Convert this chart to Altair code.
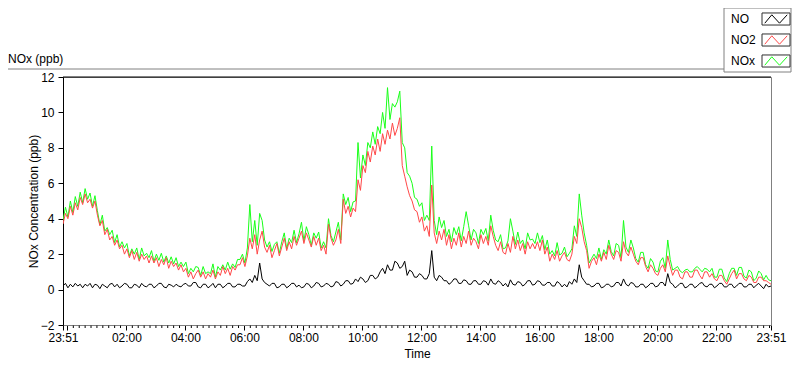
import altair as alt
import pandas as pd

FONT = "Liberation Sans"
STEP = 5  # minutes between samples, first sample at 23:51

# NO2 (ppb), one value every 5 min from 23:51 to 23:51 next day (12 per row)
no2 = [
    3.7, 4.3, 4.0, 4.7, 4.2, 4.9, 4.5, 5.2, 4.8, 5.4, 4.9, 5.1,
    4.6, 5.0, 4.2, 3.6, 3.9, 3.1, 3.4, 2.8, 3.0, 2.5, 2.8, 2.3,
    2.5, 2.0, 2.3, 1.8, 2.2, 1.7, 2.1, 1.6, 2.0, 1.7, 1.9, 1.5,
    1.9, 1.5, 1.8, 1.3, 1.7, 1.4, 1.8, 1.2, 1.6, 1.3, 1.5, 1.1,
    1.4, 1.0, 1.2, 0.7, 1.0, 0.6, 0.9, 1.1, 0.7, 1.0, 0.6, 0.9,
    0.7, 1.1, 0.6, 1.0, 0.8, 1.3, 0.9, 1.2, 0.8, 1.3, 1.1, 1.4,
    1.4, 1.8, 1.3, 1.9, 2.9, 2.3, 3.1, 2.0, 2.8, 3.3, 2.4, 2.1,
    2.5, 1.8, 2.2, 2.6, 1.9, 2.4, 2.9, 2.2, 2.7, 2.3, 3.0, 2.5,
    2.9, 3.3, 2.6, 3.2, 2.8, 2.4, 3.0, 2.5, 2.9, 2.2, 2.5, 2.0,
    3.7, 2.9, 2.5, 2.8, 3.4, 2.6, 5.1, 4.3, 4.7, 4.1, 4.6, 4.4,
    6.2, 5.6, 7.0, 6.6, 7.8, 7.2, 8.1, 7.6, 8.5, 7.8, 8.8, 8.2,
    9.0, 8.5, 9.4, 8.7, 9.1, 9.7, 7.0, 6.4, 5.8, 5.3, 5.0, 4.5,
    4.4, 3.8, 4.1, 3.3, 3.6, 3.0, 5.9, 3.2, 2.6, 3.3, 2.8, 3.4,
    2.5, 3.1, 2.3, 2.9, 2.5, 3.2, 2.4, 3.0, 2.6, 3.3, 2.5, 2.9,
    2.7, 2.3, 3.1, 2.6, 3.0, 2.5, 3.6, 3.0, 2.5, 2.2, 2.7, 2.1,
    2.0, 2.6, 2.1, 3.0, 2.3, 2.8, 2.2, 2.6, 2.0, 2.7, 2.3, 2.6,
    2.3, 2.7, 2.2, 2.8, 2.0, 2.4, 1.6, 2.0, 1.7, 2.2, 1.6, 1.9,
    2.1, 1.7, 1.6, 2.0, 3.0, 2.6, 4.0, 3.5, 2.7, 2.2, 1.2, 1.6,
    1.8, 1.4, 2.0, 1.6, 2.1, 1.7, 2.5, 2.0, 1.7, 2.2, 2.1, 1.6,
    2.7, 2.1, 1.9, 2.4, 2.0, 1.6, 1.4, 1.8, 1.8, 1.3, 1.0, 1.4,
    1.2, 0.9, 0.8, 1.2, 1.4, 1.0, 1.9, 1.3, 0.8, 1.1, 1.1, 0.7,
    0.6, 1.0, 1.0, 0.7, 0.7, 1.1, 1.1, 0.8, 0.6, 1.0, 1.0, 0.7,
    0.9, 0.6, 0.5, 0.8, 0.8, 0.5, 0.3, 0.6, 0.9, 1.1, 0.6, 0.9,
    0.9, 0.6, 0.5, 0.8, 0.7, 0.4, 0.4, 0.7, 0.7, 0.5, 0.5, 0.4,
    0.3,
]

# NO (ppb)
no = [
    0.2, 0.35, 0.1, 0.3, 0.15, 0.35, 0.2, 0.3, 0.1, 0.3, 0.2, 0.35,
    0.1, 0.3, 0.25, 0.05, 0.3, 0.2, 0.1, 0.3, 0.35, 0.15, 0.3, 0.1,
    0.2, 0.35, 0.3, 0.1, 0.1, 0.3, 0.25, 0.1, 0.35, 0.2, 0.15, 0.3,
    0.3, 0.1, 0.2, 0.35, 0.35, 0.15, 0.1, 0.3, 0.25, 0.15, 0.3, 0.2,
    0.15, 0.3, 0.35, 0.2, 0.2, 0.4, 0.4, 0.15, 0.1, 0.3, 0.3, 0.1,
    0.2, 0.35, 0.1, 0.3, 0.3, 0.1, 0.2, 0.35, 0.35, 0.15, 0.15, 0.3,
    0.3, 0.2, 0.2, 0.45, 0.6, 0.4, 0.8, 0.5, 1.5, 0.6, 0.4, 0.3,
    0.2, 0.35, 0.35, 0.1, 0.15, 0.3, 0.3, 0.1, 0.2, 0.35, 0.35, 0.15,
    0.25, 0.1, 0.15, 0.35, 0.3, 0.1, 0.2, 0.4, 0.35, 0.15, 0.2, 0.35,
    0.3, 0.15, 0.2, 0.45, 0.4, 0.2, 0.3, 0.5, 0.5, 0.3, 0.35, 0.6,
    0.45, 0.7, 0.6, 0.4, 0.5, 0.8, 0.8, 0.6, 0.7, 1.0, 1.2, 0.9,
    1.4, 1.1, 1.1, 1.6, 1.5, 1.2, 1.3, 1.6, 0.8, 1.1, 1.0, 0.7,
    0.7, 0.9, 0.8, 0.6, 0.6, 0.9, 2.2, 0.7, 0.5, 0.8, 0.7, 0.5,
    0.5, 0.3, 0.4, 0.6, 0.6, 0.35, 0.35, 0.55, 0.5, 0.3, 0.3, 0.5,
    0.5, 0.3, 0.3, 0.5, 0.45, 0.25, 0.6, 0.35, 0.3, 0.5, 0.4, 0.2,
    0.35, 0.15, 0.55, 0.3, 0.25, 0.45, 0.4, 0.2, 0.3, 0.5, 0.5, 0.25,
    0.3, 0.5, 0.45, 0.25, 0.25, 0.4, 0.4, 0.2, 0.2, 0.45, 0.35, 0.15,
    0.3, 0.15, 0.45, 0.3, 0.6, 0.4, 1.4, 0.7, 0.5, 0.3, 0.3, 0.15,
    0.2, 0.35, 0.35, 0.1, 0.15, 0.3, 0.3, 0.15, 0.2, 0.4, 0.4, 0.2,
    0.6, 0.3, 0.2, 0.4, 0.35, 0.15, 0.15, 0.3, 0.3, 0.1, 0.2, 0.35,
    0.35, 0.15, 0.2, 0.4, 0.4, 0.2, 0.9, 0.4, 0.3, 0.1, 0.2, 0.35,
    0.35, 0.1, 0.15, 0.3, 0.3, 0.1, 0.2, 0.35, 0.4, 0.2, 0.15, 0.3,
    0.3, 0.1, 0.2, 0.35, 0.35, 0.15, 0.15, 0.3, 0.3, 0.1, 0.2, 0.35,
    0.35, 0.15, 0.15, 0.3, 0.3, 0.1, 0.25, 0.35, 0.2, 0.05, 0.3, 0.15,
    0.2,
]

# NOx (ppb)
nox = [
    3.9, 4.65, 4.1, 5.0, 4.35, 5.25, 4.7, 5.5, 4.9, 5.7, 5.1, 5.45,
    4.7, 5.3, 4.45, 3.65, 4.2, 3.3, 3.5, 3.1, 3.35, 2.65, 3.1, 2.4,
    2.7, 2.35, 2.6, 1.9, 2.3, 2.0, 2.35, 1.7, 2.35, 1.9, 2.05, 1.8,
    2.2, 1.6, 2.0, 1.65, 2.05, 1.55, 1.9, 1.5, 1.85, 1.45, 1.8, 1.3,
    1.55, 1.3, 1.55, 0.9, 1.2, 1.0, 1.3, 1.25, 0.8, 1.3, 0.9, 1.0,
    0.9, 1.45, 0.7, 1.3, 1.1, 1.4, 1.1, 1.55, 1.15, 1.45, 1.25, 1.7,
    1.7, 2.0, 1.5, 2.35, 4.8, 2.7, 3.9, 2.5, 4.3, 3.9, 2.8, 2.4,
    2.7, 2.15, 2.55, 2.7, 2.05, 2.7, 3.2, 2.3, 2.9, 2.65, 3.35, 2.65,
    3.15, 3.8, 2.75, 3.55, 3.1, 2.5, 3.2, 2.9, 3.25, 2.35, 2.7, 2.35,
    4.0, 3.05, 2.7, 3.25, 3.8, 2.8, 5.4, 4.8, 5.2, 4.4, 4.95, 5.0,
    8.3, 6.3, 7.6, 7.0, 8.3, 8.0, 8.9, 8.2, 9.2, 8.8, 10.0, 9.1,
    11.4, 9.6, 10.5, 10.3, 10.6, 11.2, 8.3, 8.0, 6.6, 6.4, 6.0, 5.2,
    5.1, 4.7, 4.9, 3.9, 4.2, 3.9, 8.1, 3.9, 3.1, 4.1, 3.5, 3.9,
    3.0, 3.4, 2.7, 3.5, 3.1, 3.55, 2.75, 3.55, 4.4, 3.6, 2.8, 3.4,
    3.2, 2.6, 3.4, 3.1, 3.45, 2.75, 4.2, 3.35, 2.8, 2.7, 3.1, 2.3,
    2.35, 2.75, 4.0, 3.3, 2.55, 3.25, 2.6, 2.8, 2.3, 3.2, 2.8, 2.85,
    2.6, 3.2, 2.65, 3.05, 2.25, 2.8, 2.0, 2.2, 1.9, 2.65, 1.95, 2.05,
    2.4, 1.85, 2.05, 2.3, 3.6, 3.0, 5.4, 4.2, 3.2, 2.5, 1.5, 1.75,
    2.0, 1.75, 2.35, 1.7, 2.25, 2.0, 2.8, 2.15, 1.9, 2.6, 2.5, 1.8,
    3.9, 2.4, 2.1, 2.8, 2.35, 1.75, 1.55, 2.1, 2.1, 1.4, 1.2, 1.75,
    1.55, 1.05, 1.0, 1.6, 1.8, 1.2, 2.8, 1.7, 1.1, 1.2, 1.3, 1.05,
    0.95, 1.1, 1.15, 1.0, 1.0, 1.2, 1.3, 1.15, 1.0, 1.2, 1.15, 1.0,
    1.2, 0.7, 0.7, 1.15, 1.15, 0.65, 0.45, 0.9, 1.2, 1.2, 0.8, 1.25,
    1.25, 0.75, 0.65, 1.1, 1.0, 0.5, 0.65, 1.05, 0.9, 0.55, 0.8, 0.55,
    0.5,
]

series_names = ["NO", "NO2", "NOx"]
series_colors = ["#000000", "#ff4848", "#19ff19"]

# axis ticks (minutes after 23:51)
major_ticks = [0, 9] + [9 + 120 * k for k in range(1, 12)] + [1440]
minor_ticks = [9 + 12 * k for k in range(1, 120) if k % 10 != 0]
y_ticks = [-2, 0, 2, 4, 6, 8, 10, 12]

W, H = 708, 248

rows = []
for name, vals in zip(series_names, [no, no2, nox]):
    for i, v in enumerate(vals):
        rows.append({"series": name, "t": i * STEP, "v": v})
df = pd.DataFrame(rows)

label_expr = (
    "datum.value == 0 || datum.value == 1440 ? '23:51' : "
    "(datum.value == 9 ? '' : ((((datum.value - 9) / 60) < 10 ? '0' : '') + ((datum.value - 9) / 60) + ':00'))"
)

xenc = alt.X(
    "t:Q",
    scale=alt.Scale(domain=[0, 1440], nice=False, zero=False),
    axis=alt.Axis(
        values=major_ticks, labelExpr=label_expr, title="Time",
        tickSize=5, tickColor="black", domainColor="#808080", grid=False,
        labelFont=FONT, labelFontSize=12, labelColor="black", labelPadding=2,
        labelFlush=False, labelOverlap=False,
        titleFont=FONT, titleFontSize=12, titleFontWeight="normal", titleColor="black",
        titleBaseline="alphabetic", titleY=32,
    ),
)
yenc = alt.Y(
    "v:Q",
    scale=alt.Scale(domain=[-2, 12], nice=False, zero=False),
    axis=alt.Axis(
        values=y_ticks, title="NOx Concentration (ppb)",
        tickSize=5, tickColor="black", domainColor="black", grid=False,
        labelFont=FONT, labelFontSize=12, labelColor="black", labelPadding=4,
        titleFont=FONT, titleFontSize=12, titleFontWeight="normal", titleColor="black",
        titleAngle=270, titleBaseline="alphabetic", titleX=-26, titleY=H / 2,
    ),
)

base = alt.Chart(df)
layers = []
for name, col in zip(["NOx", "NO2", "NO"], ["#19ff19", "#ff4848", "#000000"]):
    layers.append(
        base.transform_filter(alt.datum.series == name)
        .mark_line(color=col, strokeWidth=1, clip=True)
        .encode(x=xenc, y=yenc)
    )

minor_df = pd.DataFrame({"t": minor_ticks})
minor_layer = alt.Chart(minor_df).mark_rule(color="black", strokeWidth=1).encode(
    x=xenc, y=alt.value(H + 0.5), y2=alt.value(H + 3)
)

one = pd.DataFrame({"k": [0]})
deco = []
# top border of plot area
deco.append(alt.Chart(one).mark_rule(color="black", strokeWidth=1).encode(
    x=alt.value(0), x2=alt.value(W), y=alt.value(0)))
# outer frame top line
deco.append(alt.Chart(one).mark_rule(color="#808080", strokeWidth=1).encode(
    x=alt.value(-55), x2=alt.value(661), y=alt.value(-8)))
# chart label
deco.append(alt.Chart(one).mark_text(align="left", baseline="middle", font=FONT, fontSize=12, color="black").encode(
    x=alt.value(-55), y=alt.value(-18), text=alt.value("NOx (ppb)")))
# legend box
deco.append(alt.Chart(one).mark_rect(fill="white", stroke="#808080", strokeWidth=1).encode(
    x=alt.value(661), x2=alt.value(728), y=alt.value(-69), y2=alt.value(-5)))
row_y = [-58, -37, -16]
for name, col, ry in zip(series_names, series_colors, row_y):
    deco.append(alt.Chart(one).mark_text(align="left", baseline="middle", font=FONT, fontSize=12, color="black").encode(
        x=alt.value(668), y=alt.value(ry), text=alt.value(name)))
    deco.append(alt.Chart(one).mark_point(shape="M-1,-0.43H1V0.43H-1Z", size=784, filled=False,
                                         color="#303030", strokeWidth=1, opacity=1).encode(
        x=alt.value(713), y=alt.value(ry)))
    deco.append(alt.Chart(one).mark_point(shape="M-0.8,0.3L-0.3,-0.3L0.25,0.3L0.8,-0.3", size=784, filled=False,
                                         color=col, strokeWidth=1, opacity=1).encode(
        x=alt.value(713), y=alt.value(ry)))

chart = alt.layer(*layers, minor_layer, *deco).properties(
    width=W, height=H,
    padding={"left": 55, "top": 69, "right": 21, "bottom": 36},
    autosize=alt.AutoSizeParams(type="none"),
    background="white",
).configure_view(stroke="#808080", strokeWidth=1)

chart.save("out.html", embed_options={"renderer": "svg", "actions": False})
